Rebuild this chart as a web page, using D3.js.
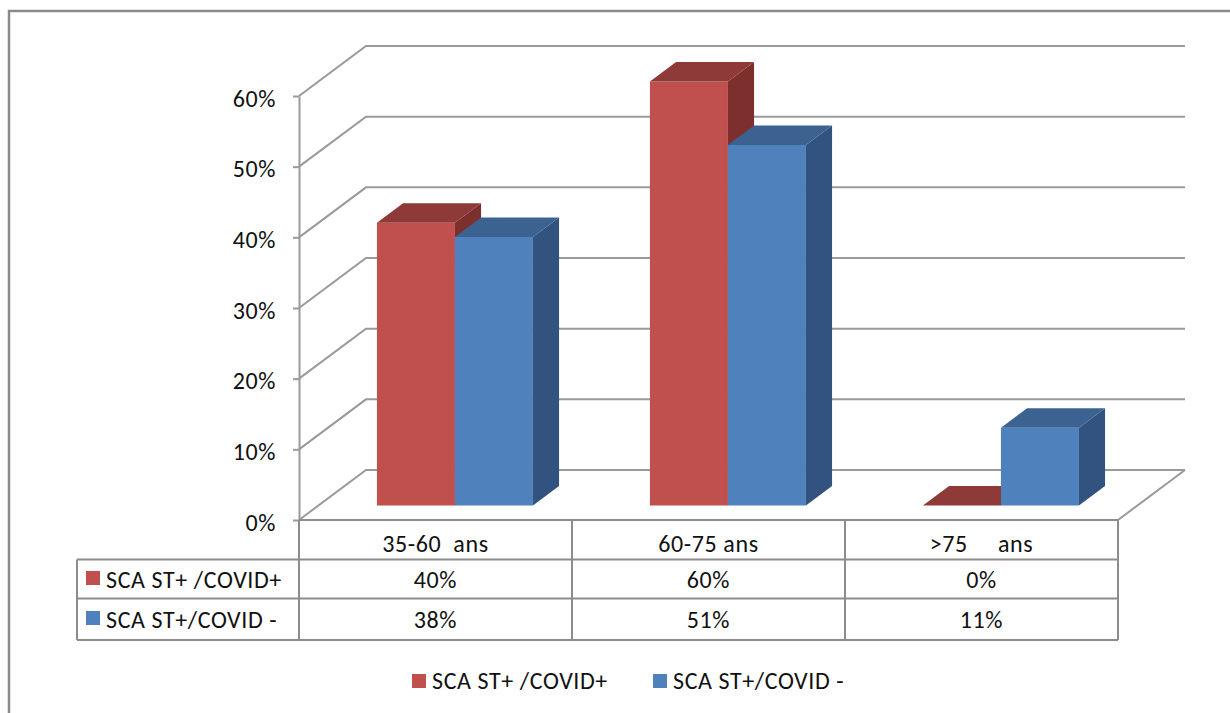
<!DOCTYPE html>
<html>
<head>
<meta charset="utf-8">
<script src="https://cdn.jsdelivr.net/npm/d3@7/dist/d3.min.js"></script>
<style>
  html, body { margin: 0; padding: 0; background: #fff; }
  svg text { font-family: Carlito, Calibri, Lato, "Open Sans", sans-serif; font-size: 24px; fill: #111; letter-spacing: 0.6px; white-space: pre; }
</style>
</head>
<body>
<svg id="chart" width="1230" height="713"></svg>
<script>
// Age groups and the share of each series per group
const categories = ["35-60  ans", "60-75 ans", ">75     ans"];
const seriesNames = ["SCA ST+ /COVID+", "SCA ST+/COVID -"];
const covidPos = [0.40, 0.60, 0.00];
const covidNeg = [0.38, 0.51, 0.11];
const tickValues = [0, 0.1, 0.2, 0.3, 0.4, 0.5, 0.6];
const tableLabels = [["40%", "60%", "0%"], ["38%", "51%", "11%"]];

const seriesValues = [covidPos, covidNeg];
const faceColors = [
  { front: "#c0504d", top: "#8e3a38", side: "#7c2f2d" },
  { front: "#4f81bd", top: "#3c6291", side: "#32537f" }
];

const svg = d3.select("#chart");
const gridColor = "#9a9a9a";

// Plot frame: front floor edge and oblique depth vector
const frontLeft = 299, frontRight = 1118, floorY = 520;
const depthDx = 67, depthDy = -50;
const barDepth0 = 0.29, barDepth1 = 0.68;

const y = d3.scaleLinear().domain([0, 0.6]).range([floorY, 96]);
const x = d3.scaleBand().domain(categories).range([frontLeft, frontRight]).padding(0);
// gap width 150%: each band holds 0.75w + 2w + 0.75w
const inner = d3.scaleBand().domain([0, 1]).range([0, x.bandwidth()]).paddingInner(0).paddingOuter(0.75);

const proj = (px, v, d) => [px + depthDx * d, y(v) + depthDy * d];

// Outer chart border
svg.append("rect")
  .attr("x", 9).attr("y", 11).attr("width", 1240).attr("height", 720)
  .attr("fill", "none").attr("stroke", "#8a8a8a").attr("stroke-width", 2.5);

// Back wall and side wall gridlines
const grid = svg.append("g").attr("fill", "none").attr("stroke", gridColor).attr("stroke-width", 2);
tickValues.forEach(v => {
  const a = proj(frontLeft, v, 0), b = proj(frontLeft, v, 1), c = proj(frontRight, v, 1);
  grid.append("path").attr("d", d3.line()([a, b, c]));
});
// Floor right edge
grid.append("path").attr("d", d3.line()([proj(frontRight, 0, 0), proj(frontRight, 0, 1)]));

// Y axis
const yAxis = svg.append("g")
  .attr("transform", `translate(${frontLeft},0)`)
  .call(d3.axisLeft(y).tickValues(tickValues).tickFormat(d3.format(".0%")).tickSize(6).tickSizeOuter(0).tickPadding(17));
yAxis.select(".domain").attr("stroke", gridColor).attr("stroke-width", 2);
yAxis.selectAll(".tick line").attr("stroke", gridColor).attr("stroke-width", 2);
yAxis.selectAll(".tick text").attr("dy", "0.42em");
yAxis.attr("font-size", null).attr("font-family", null);

// 3D bars
const bars = svg.append("g");
categories.forEach((cat, ci) => {
  seriesValues.forEach((vals, si) => {
    const v = vals[ci];
    const xl = x(cat) + inner(si), xr = xl + inner.bandwidth();
    const col = faceColors[si];
    const g = bars.append("g");
    const line = d3.line();
    // front
    g.append("path").attr("fill", col.front)
      .attr("d", line([proj(xl, 0, barDepth0), proj(xr, 0, barDepth0), proj(xr, v, barDepth0), proj(xl, v, barDepth0)]) + "Z");
    // side
    if (v > 0) {
      g.append("path").attr("fill", col.side)
        .attr("d", line([proj(xr, 0, barDepth0), proj(xr, 0, barDepth1), proj(xr, v, barDepth1), proj(xr, v, barDepth0)]) + "Z");
    }
    // top
    g.append("path").attr("fill", col.top)
      .attr("d", line([proj(xl, v, barDepth0), proj(xr, v, barDepth0), proj(xr, v, barDepth1), proj(xl, v, barDepth1)]) + "Z");
  });
});

// Data table
const rowTop = floorY, row1 = 559.5, row2 = 598.5, rowBottom = 640, tableLeft = 77;
const table = svg.append("g").attr("fill", "none").attr("stroke", "#8c8c8c").attr("stroke-width", 2);
[[frontLeft, rowTop, frontRight, rowTop],
 [tableLeft, row1, frontRight, row1],
 [tableLeft, row2, frontRight, row2],
 [tableLeft, rowBottom, frontRight, rowBottom],
 [tableLeft, row1, tableLeft, rowBottom]].forEach(s =>
  table.append("line").attr("x1", s[0]).attr("y1", s[1]).attr("x2", s[2]).attr("y2", s[3]));
categories.forEach(cat => {
  table.append("line").attr("x1", x(cat)).attr("x2", x(cat)).attr("y1", rowTop).attr("y2", rowBottom);
});
table.append("line").attr("x1", frontRight).attr("x2", frontRight).attr("y1", rowTop).attr("y2", rowBottom);

const tableText = svg.append("g").attr("text-anchor", "middle");
categories.forEach((cat, ci) => {
  const cx = x(cat) + x.bandwidth() / 2;
  tableText.append("text").attr("x", cx).attr("y", 552).text(cat);
  tableText.append("text").attr("x", cx).attr("y", 588).text(tableLabels[0][ci]);
  tableText.append("text").attr("x", cx).attr("y", 628).text(tableLabels[1][ci]);
});
seriesNames.forEach((name, si) => {
  const base = si === 0 ? 588 : 628;
  svg.append("rect").attr("x", 86).attr("y", base - 17).attr("width", 14).attr("height", 14).attr("fill", faceColors[si].front);
  svg.append("text").attr("x", 106).attr("y", base).text(name);
});

// Legend
const legendX = [412, 653];
seriesNames.forEach((name, si) => {
  svg.append("rect").attr("x", legendX[si]).attr("y", 674).attr("width", 14).attr("height", 14).attr("fill", faceColors[si].front);
  svg.append("text").attr("x", legendX[si] + 20).attr("y", 689).text(name);
});
</script>
</body>
</html>
